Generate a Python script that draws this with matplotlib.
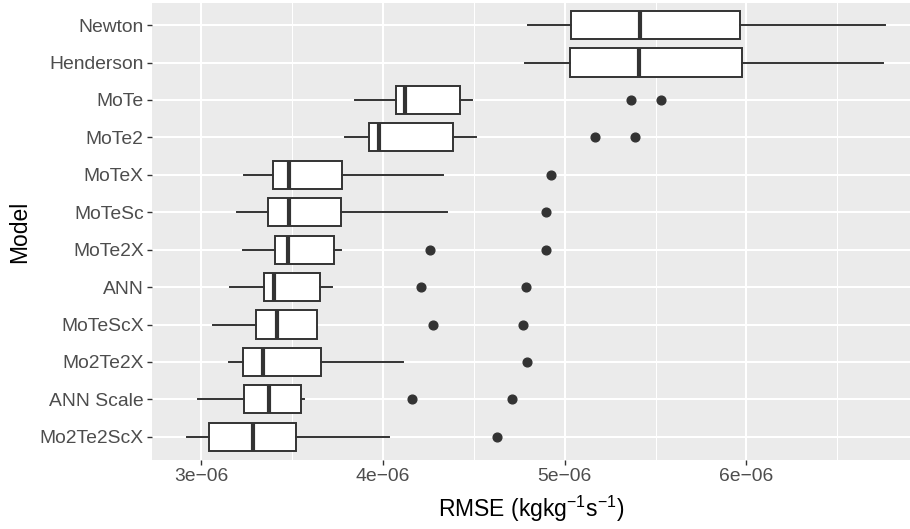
import numpy as np
import matplotlib.pyplot as plt

plt.rcParams['font.family'] = ['Liberation Sans', 'DejaVu Sans']
plt.rcParams['mathtext.fontset'] = 'custom'
plt.rcParams['mathtext.rm'] = 'Liberation Sans'
plt.rcParams['mathtext.it'] = 'Liberation Sans'

# models, top to bottom as in the chart
models = ["Newton", "Henderson", "MoTe", "MoTe2", "MoTeX", "MoTeSc", "MoTe2X",
          "ANN", "MoTeScX", "Mo2Te2X", "ANN Scale", "Mo2Te2ScX"]

# box statistics, in units of 1e-6
whislo = [4.800, 4.782, 3.849, 3.794, 3.237, 3.198, 3.233, 3.161, 3.064, 3.156, 2.982, 2.925]
q1     = [5.037, 5.030, 4.071, 3.926, 3.394, 3.370, 3.407, 3.347, 3.301, 3.233, 3.235, 3.044]
med    = [5.416, 5.407, 4.122, 3.981, 3.486, 3.482, 3.479, 3.403, 3.418, 3.343, 3.372, 3.284]
q3     = [5.966, 5.977, 4.423, 4.386, 3.774, 3.768, 3.732, 3.655, 3.636, 3.658, 3.550, 3.524]
whishi = [6.764, 6.753, 4.493, 4.513, 4.333, 4.355, 3.768, 3.721, 3.636, 4.109, 3.565, 4.036]
outliers = [[], [], [5.365, 5.532], [5.165, 5.389], [4.925], [4.896],
            [4.260, 4.898], [4.208, 4.786], [4.274, 4.771], [4.791],
            [4.161, 4.711], [4.626]]

xticks = [3e-6, 4e-6, 5e-6, 6e-6]
xticklabels = ["3e\u221206", "4e\u221206", "5e\u221206", "6e\u221206"]
xminor = [3.5e-6, 4.5e-6, 5.5e-6, 6.5e-6]

n = len(models)
pos = np.arange(n, 0, -1)  # Newton at top

stats = []
for i in range(n):
    stats.append(dict(whislo=whislo[i] * 1e-6, q1=q1[i] * 1e-6, med=med[i] * 1e-6,
                      q3=q3[i] * 1e-6, whishi=whishi[i] * 1e-6,
                      fliers=np.array(outliers[i]) * 1e-6))

fig = plt.figure(figsize=(9.1, 5.29), dpi=100)
ax = fig.add_axes([152 / 910, 69 / 529, 758 / 910, 457 / 529])
ax.set_facecolor('#EBEBEB')
ax.set_axisbelow(True)

dark = '#333333'
ax.bxp(stats, positions=pos, widths=0.75, orientation='horizontal',
       patch_artist=True, showcaps=False,
       boxprops=dict(facecolor='white', edgecolor=dark, linewidth=1.4),
       medianprops=dict(color=dark, linewidth=3.0, solid_capstyle='butt'),
       whiskerprops=dict(color=dark, linewidth=1.4),
       flierprops=dict(marker='o', markerfacecolor=dark, markeredgecolor=dark,
                       markersize=6.3, linestyle='none'))

ax.set_xlim(2.730e-6, 6.900e-6)
ax.set_ylim(0.38, n + 0.59)

ax.set_xticks(xticks)
ax.set_xticklabels(xticklabels)
ax.set_xticks(xminor, minor=True)
ax.set_yticks(pos)
ax.set_yticklabels(models)

ax.grid(which='major', color='white', linewidth=1.5)
ax.grid(which='minor', axis='x', color='white', linewidth=0.75)
for s in ax.spines.values():
    s.set_visible(False)

ax.tick_params(which='major', length=3.5, width=1.0, color=dark,
               labelcolor='#4D4D4D', labelsize=13.9, pad=2.5)
ax.tick_params(which='minor', length=0)

ax.set_xlabel('RMSE (kgkg$^{-1}$s$^{-1}$)', fontsize=16.5, color='black', labelpad=6)
ax.set_ylabel('Model', fontsize=16.5, color='black', labelpad=6)

plt.savefig('out.png', dpi=100)
